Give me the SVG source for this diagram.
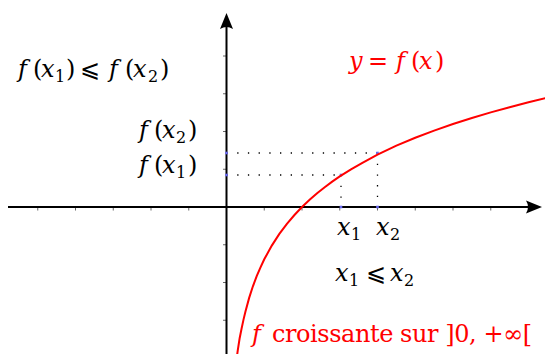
<svg xmlns="http://www.w3.org/2000/svg" width="545" height="354" viewBox="0 0 545 354">
<style>
.ax{stroke:#000;stroke-width:2;fill:none}
.tk{stroke:#555;stroke-width:0.9}
.dot{stroke:#000;stroke-width:1.3;stroke-dasharray:1.3 9.4;fill:none}
.bd{fill:#6a6af0}
.t{font-family:"DejaVu Serif","Liberation Serif",serif;font-size:24px;fill:#000}
.i{font-style:italic}
.s{font-size:16px}
.red{fill:#f00}
.arr{fill:#000}
</style>
<rect width="545" height="354" fill="#fff"/>
<g id="axes">
<g class="tk">
<path d="M37.75,207v3.5M75.5,207v3.5M113.25,207v3.5M151,207v3.5M188.75,207v3.5M264.25,207v3.5M302,207v3.5M339.75,207v3.5M377.5,207v3.5M415.25,207v3.5M453,207v3.5M490.75,207v3.5"/>
<path d="M226.5,56h-3.5M226.5,93.75h-3.5M226.5,131.5h-3.5M226.5,169.25h-3.5M226.5,244.75h-3.5M226.5,282.5h-3.5M226.5,320.25h-3.5"/>
</g>
<path class="ax" d="M8,207H532M226.5,354V20"/>
<path class="arr" d="M542,207L526,200.5Q530,207 526,213.5Z"/>
<path class="arr" d="M226.5,13L220,29Q226.5,25 233,29Z"/>
</g>
<g id="connectors">
<path class="dot" d="M226.5,153H377.5M226.5,175H341M341,175V207M377.5,153V207"/>
<rect class="bd" x="225.2" y="151.7" width="2.6" height="2.6"/>
<rect class="bd" x="225.2" y="173.7" width="2.6" height="2.6"/>
<rect class="bd" x="339.7" y="205.7" width="2.6" height="2.6"/>
<rect class="bd" x="376.2" y="205.7" width="2.6" height="2.6"/>
<rect class="bd" x="339.7" y="173.7" width="2.6" height="2.6"/>
<rect class="bd" x="376.2" y="151.7" width="2.6" height="2.6"/>
</g>
<g id="curve">
<polyline fill="none" stroke="#f00" stroke-width="2" points="237.07,355.4 237.8,350.2 239.6,338.5 241.6,328.5 243.5,319.6 245.4,311.7 249.15,297.9 252.9,286.3 256.7,276.2 260.5,267.4 264.25,259.3 271.8,245.6 279.35,233.9 286.9,223.8 294.45,215 302,207 309.6,199.8 317.1,193.2 324.7,187.2 332.2,181.6 339.75,176.4 351,169.4 362.4,162.9 377.5,154.7 396.4,145.7 415.25,137.8 434.1,130.6 453,124 471.9,118 490.75,112.4 509.6,107.2 528.5,102.3 547.4,97.7"/>
</g>
<g id="label-ineq-f">
<text class="t" y="77"><tspan class="i" x="18">f</tspan><tspan x="33">(</tspan><tspan class="i" x="41">x</tspan><tspan class="s" x="55" y="82">1</tspan><tspan x="66" y="77">)</tspan><tspan x="80">⩽</tspan><tspan class="i" x="109">f</tspan><tspan x="125">(</tspan><tspan class="i" x="133">x</tspan><tspan class="s" x="148" y="82">2</tspan><tspan x="160" y="77">)</tspan></text>
</g>
<g id="label-fx2">
<text class="t" y="138"><tspan class="i" x="139">f</tspan><tspan x="154">(</tspan><tspan class="i" x="162">x</tspan><tspan class="s" x="176" y="143">2</tspan><tspan x="188" y="138">)</tspan></text>
</g>
<g id="label-fx1">
<text class="t" y="173"><tspan class="i" x="139">f</tspan><tspan x="154">(</tspan><tspan class="i" x="162">x</tspan><tspan class="s" x="176" y="178">1</tspan><tspan x="188" y="173">)</tspan></text>
</g>
<g id="label-curve">
<text class="t red" y="69"><tspan class="i" x="349">y</tspan><tspan x="368">=</tspan><tspan class="i" x="396">f</tspan><tspan x="411">(</tspan><tspan class="i" x="419">x</tspan><tspan x="435">)</tspan></text>
</g>
<g id="label-x1">
<text class="t" y="235"><tspan class="i" x="337">x</tspan><tspan class="s" x="351" y="240">1</tspan></text>
</g>
<g id="label-x2">
<text class="t" y="235"><tspan class="i" x="376">x</tspan><tspan class="s" x="390" y="240">2</tspan></text>
</g>
<g id="label-ineq-x">
<text class="t" y="281"><tspan class="i" x="335">x</tspan><tspan class="s" x="349" y="286">1</tspan><tspan x="366" y="281">⩽</tspan><tspan class="i" x="390">x</tspan><tspan class="s" x="404" y="286">2</tspan></text>
</g>
<g id="label-croissante">
<text class="t red i" x="252" y="342">f</text>
<text class="t red" x="272" y="342" textLength="260" lengthAdjust="spacing">croissante sur ]0, +∞[</text>
</g>
</svg>
